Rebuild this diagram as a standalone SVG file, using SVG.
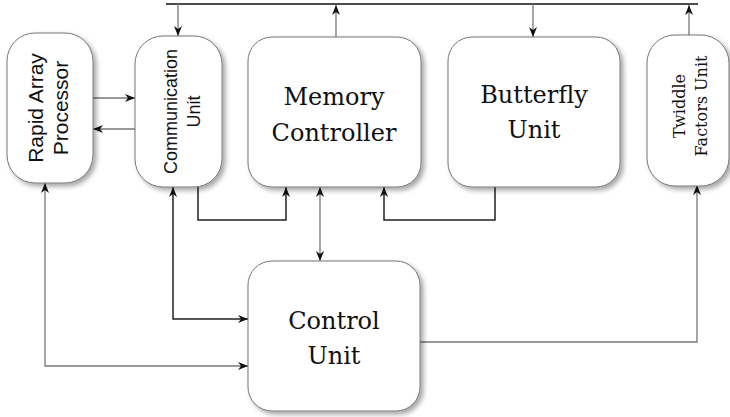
<svg xmlns="http://www.w3.org/2000/svg" width="730" height="417" viewBox="0 0 730 417">
<defs>
<filter id="sh" x="-20%" y="-20%" width="150%" height="150%">
<feDropShadow dx="3" dy="3" stdDeviation="2.5" flood-color="#000" flood-opacity="0.35"/>
</filter>
<marker id="ar" viewBox="0 0 10 8" refX="10" refY="4" markerWidth="10" markerHeight="8" markerUnits="userSpaceOnUse" orient="auto-start-reverse">
<path d="M0,0 L10,4 L0,8 L3,4 z" fill="#111"/>
</marker>
</defs>
<style>
.box{fill:#fff;stroke:#777;stroke-width:1;filter:url(#sh)}
.sans{font-family:"Liberation Sans",Arial,sans-serif;fill:#111;text-anchor:middle}
.serif{font-family:"DejaVu Serif","Liberation Serif",serif;fill:#111;text-anchor:middle}
.dk{fill:none;stroke:#222;stroke-width:1.5}
.gr{fill:none;stroke:#777;stroke-width:1.3}
.bus{fill:none;stroke:#111;stroke-width:1.6}
</style>
<rect width="730" height="417" fill="#fff"/>
<g id="connectors">
<path class="bus" d="M166,4 H698"/>
<path class="gr" d="M178,4 V36" marker-end="url(#ar)"/>
<path class="gr" d="M336,37 V5" marker-end="url(#ar)"/>
<path class="gr" d="M533,4 V37" marker-end="url(#ar)"/>
<path class="gr" d="M689,35 V5" marker-end="url(#ar)"/>
<path class="gr" d="M93,98 H135" marker-end="url(#ar)"/>
<path class="gr" d="M135,129 H93" marker-end="url(#ar)"/>
<path class="dk" d="M198,187 V220 H286 V187" marker-end="url(#ar)"/>
<path class="dk" d="M495,187 V220 H384 V187" marker-end="url(#ar)"/>
<path class="gr" d="M320,187 V261" marker-start="url(#ar)" marker-end="url(#ar)"/>
<path class="dk" d="M173,187 V319 H248" marker-start="url(#ar)" marker-end="url(#ar)"/>
<path class="gr" d="M45,183 V366 H248" marker-start="url(#ar)" marker-end="url(#ar)"/>
<path class="gr" d="M420,342 H697 V185" marker-end="url(#ar)"/>
</g>
<g id="rap">
<rect class="box" x="7" y="33" width="86" height="150" rx="28"/>
<text class="sans" font-size="21" transform="translate(43,108) rotate(-90)">Rapid Array</text>
<text class="sans" font-size="21" transform="translate(68,108) rotate(-90)">Processor</text>
</g>
<g id="comm">
<rect class="box" x="135" y="36" width="87" height="151" rx="28"/>
<text class="sans" font-size="18" transform="translate(177,111.5) rotate(-90)">Communication</text>
<text class="sans" font-size="18" transform="translate(200,111.5) rotate(-90)">Unit</text>
</g>
<g id="mc">
<rect class="box" x="248" y="37" width="173" height="150" rx="24"/>
<text class="serif" font-size="24" x="334" y="105">Memory</text>
<text class="serif" font-size="24" x="334" y="141">Controller</text>
</g>
<g id="bf">
<rect class="box" x="448" y="37" width="172" height="150" rx="24"/>
<text class="serif" font-size="24" x="534" y="103">Butterfly</text>
<text class="serif" font-size="24" x="534" y="138">Unit</text>
</g>
<g id="tw">
<rect class="box" x="647" y="35" width="82" height="151" rx="28"/>
<text class="serif" font-size="16" transform="translate(685,106) rotate(-90)">Twiddle</text>
<text class="serif" font-size="16" transform="translate(707,106) rotate(-90)">Factors Unit</text>
</g>
<g id="cu">
<rect class="box" x="248" y="261" width="172" height="150" rx="24"/>
<text class="serif" font-size="24" x="334" y="329">Control</text>
<text class="serif" font-size="24" x="334" y="364">Unit</text>
</g>
</svg>
